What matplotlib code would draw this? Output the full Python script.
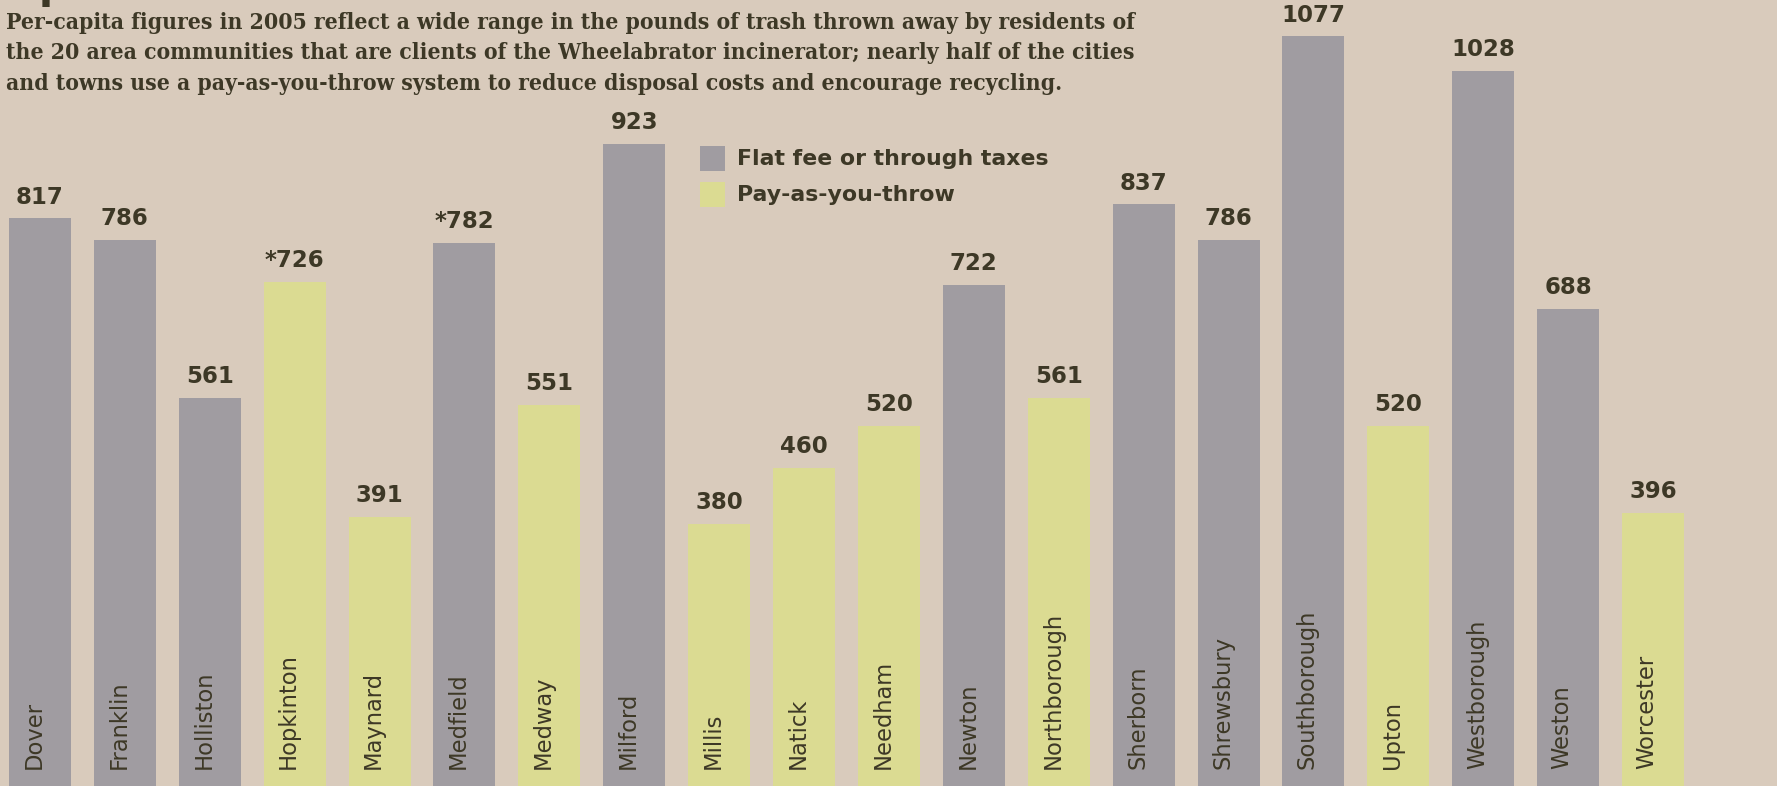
import matplotlib.pyplot as plt
from matplotlib.patches import Rectangle

# per-capita trash, pounds, 2005
towns = ["Dover", "Franklin", "Holliston", "Hopkinton", "Maynard", "Medfield",
         "Medway", "Milford", "Millis", "Natick", "Needham", "Newton",
         "Northborough", "Sherborn", "Shrewsbury", "Southborough", "Upton",
         "Westborough", "Weston", "Worcester"]
pounds = [817, 786, 561, 726, 391, 782, 551, 923, 380, 460, 520, 722,
          561, 837, 786, 1077, 520, 1028, 688, 396]
labels = ["817", "786", "561", "*726", "391", "*782", "551", "923", "380", "460",
          "520", "722", "561", "837", "786", "1077", "520", "1028", "688", "396"]
# 0 = flat fee or through taxes, 1 = pay-as-you-throw
payg = [0, 0, 0, 1, 1, 0, 1, 0, 1, 1, 1, 0, 1, 0, 0, 0, 1, 0, 0, 1]

paper = "#d9cbbc"
gray = "#a09ca1"
yellow = "#dbdb92"
ink = "#3d3826"

fig = plt.figure(figsize=(17.77, 7.86), dpi=100)
fig.patch.set_facecolor(paper)
ax = fig.add_axes([0, 0, 1, 1])
ax.set_facecolor(paper)

colors = [yellow if p else gray for p in payg]
x = range(len(towns))
ax.bar(x, pounds, width=0.73, color=colors, edgecolor="none")

for i in x:
    ax.text(i, pounds[i] + 14, labels[i], ha="center", va="bottom",
            fontsize=16.5, fontweight="bold", color=ink)
    ax.text(i - 0.07, 30, towns[i], rotation=90, ha="center", va="bottom",
            fontsize=16.3, color=ink)

ax.set_xlim(-0.47, 20.46)
ax.set_ylim(6, 1129)
ax.axis("off")

# headline (cut off at top in the scan) and chatter
fig.text(0.003, 1.0 - 7 / 786, "Up in smoke", fontsize=30, fontweight="bold",
         color=ink, ha="left", va="bottom", family="DejaVu Sans")
chatter = ["Per-capita figures in 2005 reflect a wide range in the pounds of trash thrown away by residents of",
           "the 20 area communities that are clients of the Wheelabrator incinerator; nearly half of the cities",
           "and towns use a pay-as-you-throw system to reduce disposal costs and encourage recycling."]
for k, line in enumerate(chatter):
    fig.text(6 / 1777, 1 - (23 + 30.5 * k) / 786, line, fontsize=16.4, fontweight="bold",
             family="DejaVu Serif", fontstretch="condensed", color=ink,
             ha="left", va="center")

# legend
for k, (name, c) in enumerate([("Flat fee or through taxes", gray), ("Pay-as-you-throw", yellow)]):
    yc = 1 - (159 + 36 * k) / 786
    fig.add_artist(Rectangle((700 / 1777, yc - 12 / 786), 25 / 1777, 25 / 786,
                             transform=fig.transFigure, color=c, lw=0))
    fig.text(737 / 1777, yc, name, fontsize=15.8, fontweight="bold", color=ink,
             ha="left", va="center")

fig.savefig("out.png", dpi=100, facecolor=paper)
